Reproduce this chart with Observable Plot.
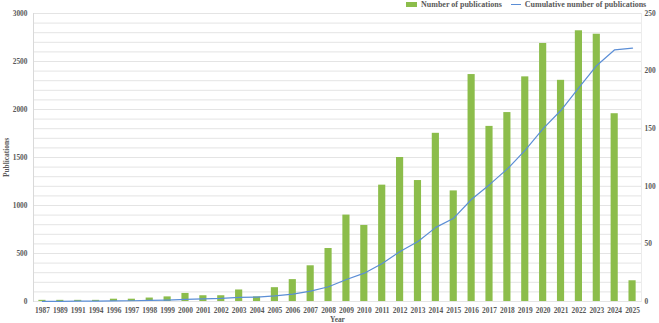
<!DOCTYPE html>
<html>
<head>
<meta charset="utf-8">
<script src="https://cdn.jsdelivr.net/npm/d3@7"></script>
<script src="https://cdn.jsdelivr.net/npm/@observablehq/plot@0.6"></script>
<style>
  html, body { margin: 0; padding: 0; background: #fff; }
  #chart { position: relative; width: 659px; height: 323px; font-family: "Liberation Serif", serif; }
  #legend { position: absolute; top: 0; left: 406px; display: flex; align-items: center; font: bold 8px "Liberation Serif", serif; color: #595959; white-space: nowrap; }
  .sw-bar { width: 11px; height: 5px; background: #8cbd4b; margin-right: 4px; }
  .sw-line { width: 10px; height: 0; border-top: 1.2px solid #5b8ed6; margin: 0 4px 0 9px; }
</style>
</head>
<body>
<div id="chart">
  <div id="legend">
    <span class="sw-bar"></span><span>Number of publications</span>
    <span class="sw-line"></span><span>Cumulative number of publications</span>
  </div>
</div>
<script>
// Publication years shown on the axis
const years = [
  "1987","1989","1991","1994","1996","1997","1998","1999","2000","2001",
  "2002","2003","2004","2005","2006","2007","2008","2009","2010","2011",
  "2012","2013","2014","2015","2016","2017","2018","2019","2020","2021",
  "2022","2023","2024","2025"
];
// Publications per year (right axis)
const perYear = [
  1, 1, 1, 1, 2, 2, 3, 4, 7, 5,
  5, 10, 4, 12, 19, 31, 46, 75, 66, 101,
  125, 105, 146, 96, 197, 152, 164, 195, 224, 192,
  235, 232, 163, 18
];
// Cumulative publications (left axis)
const cumulative = [
  1, 2, 3, 4, 6, 8, 11, 15, 22, 27,
  32, 42, 46, 58, 77, 108, 154, 229, 295, 396,
  521, 626, 772, 868, 1065, 1217, 1381, 1576, 1800, 1992,
  2227, 2459, 2622, 2640
];
const leftTicks = [0, 500, 1000, 1500, 2000, 2500, 3000];
const rightTicks = [0, 50, 100, 150, 200, 250];

// The right axis (0–250) shares the plot with the left axis (0–3000)
const ratio = 3000 / 250;

const rows = years.map((year, i) => ({year, count: perYear[i], total: cumulative[i]}));

const chart = Plot.plot({
  width: 659,
  height: 323,
  marginLeft: 33,
  marginRight: 18,
  marginTop: 13,
  marginBottom: 22,
  style: {fontFamily: "Liberation Serif, serif", fontSize: "7.4px", fontWeight: "bold", color: "#595959", background: "#fff"},
  x: {domain: years, padding: 0.6, paddingOuter: 0.3, round: false},
  y: {domain: [0, 3000]},
  marks: [
    Plot.gridY(d3.range(0, 3001, 100), {stroke: "#e4e4e4", strokeOpacity: 1}),
    Plot.frame({anchor: "left", stroke: "#d9d9d9"}),
    Plot.frame({anchor: "right", stroke: "#ececec"}),
    Plot.barY(rows, {x: "year", y: d => d.count * ratio, fill: "#8cbd4b"}),
    Plot.line(rows, {x: "year", y: "total", stroke: "#5b8ed6", strokeWidth: 1.2}),
    Plot.axisY(leftTicks, {anchor: "left", tickSize: 0, tickPadding: 6, tickFormat: d3.format("d"), fill: "#595959", label: "Publications", labelAnchor: "center", labelArrow: "none", labelOffset: 30}),
    Plot.axisY(rightTicks.map(v => v * ratio), {anchor: "right", tickSize: 0, tickPadding: 3, fill: "#595959", tickFormat: d => d / ratio, label: null}),
    Plot.axisX({tickSize: 0, tickPadding: 6, fill: "#595959", label: "Year", labelAnchor: "center", labelArrow: "none", labelOffset: 20})
  ]
});
document.getElementById("chart").appendChild(chart);
</script>
</body>
</html>
